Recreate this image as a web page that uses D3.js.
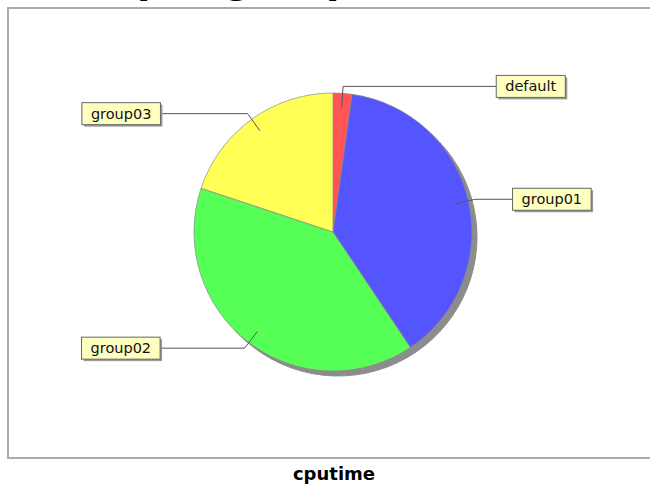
<!DOCTYPE html>
<html><head><meta charset="utf-8">
<script src="https://cdn.jsdelivr.net/npm/d3@7"></script>
<style>body{margin:0;background:#fff;overflow:hidden}</style>
</head><body><svg id="c" width="650" height="489"></svg>
<script>
const categories = ["default", "group01", "group02", "group03"];
const values = [2.2, 38.4, 39.5, 19.9];
const colors = ["#FF5555", "#5555FF", "#55FF55", "#FFFF55"];
const titleText = "CPU per group";
const footerText = "cputime";

const W = 650, H = 489;
const svg = d3.select("#c");
svg.append("rect").attr("width", W).attr("height", H).attr("fill", "#fff");

// title (mostly cropped above the picture, as in the reference)
const title = svg.append("text")
  .attr("y", -7)
  .attr("font-family", "DejaVu Sans")
  .attr("font-weight", "bold")
  .attr("font-size", 39)
  .attr("fill", "#000")
  .text(titleText);
const prefix = title.node().getSubStringLength(0, titleText.indexOf("per"));
title.attr("x", 137 - prefix);

// plot border (right side cropped)
svg.append("rect")
  .attr("x", 8).attr("y", 8).attr("width", 670).attr("height", 450)
  .attr("fill", "#fff").attr("stroke", "#ababab").attr("stroke-width", 2);

const cx = 333, cy = 232, r = 139;
const g = svg.append("g").attr("transform", `translate(${cx},${cy})`);

const pie = d3.pie().sort(null).value(d => d.v);
const data = categories.map((c, i) => ({ c, v: values[i], col: colors[i] }));
const arcs = pie(data);
const arc = d3.arc().innerRadius(0).outerRadius(r);

// shadow
g.append("g").attr("transform", "translate(5,5)")
  .selectAll("path").data(arcs).join("path")
  .attr("d", arc).attr("fill", "#8c8c8c").attr("stroke", "#8c8c8c").attr("stroke-width", 1);

g.selectAll("path.slice").data(arcs).join("path")
  .attr("class", "slice")
  .attr("d", arc)
  .attr("fill", d => d.data.col)
  .attr("stroke", "#8a8a8a")
  .attr("stroke-width", 0.7);

// labels
const labelFont = { family: "DejaVu Sans", size: 14.5 };
const links = g.append("g");
const boxes = g.append("g");

arcs.forEach(d => {
  const mid = (d.startAngle + d.endAngle) / 2;
  const s = Math.sin(mid), c = Math.cos(mid);
  const ix = 0.9 * r * s, iy = -0.9 * r * c;
  const ex = 1.05 * r * s, ey = -1.05 * r * c;
  const right = s >= 0;
  const off = 162 + 18 * Math.abs(s);

  const t = boxes.append("text")
    .attr("font-family", labelFont.family)
    .attr("font-size", labelFont.size)
    .attr("fill", "#111")
    .attr("text-anchor", "middle")
    .text(d.data.c);
  const tw = t.node().getComputedTextLength();
  const bw = tw + 18, bh = 22;
  const bx = right ? off : -off - bw;
  const by = ey - bh / 2;

  links.append("polyline")
    .attr("points", [[ix, iy], [ex, ey], [right ? bx : bx + bw, ey]].map(p => p.join(",")).join(" "))
    .attr("fill", "none").attr("stroke", "#555").attr("stroke-width", 1);

  boxes.insert("rect", "text")
    .attr("x", bx + 2).attr("y", by + 2).attr("width", bw).attr("height", bh)
    .attr("fill", "#9a9a9a");
  boxes.insert("rect", "text")
    .attr("x", bx).attr("y", by).attr("width", bw).attr("height", bh)
    .attr("fill", "#FFFFC0").attr("stroke", "#666").attr("stroke-width", 1);
  t.attr("x", bx + bw / 2).attr("y", ey + 5);
});

// footer label
svg.append("text")
  .attr("x", 334).attr("y", 480)
  .attr("text-anchor", "middle")
  .attr("font-family", "DejaVu Sans")
  .attr("font-weight", "bold")
  .attr("font-size", 18)
  .attr("fill", "#000")
  .text(footerText);
</script>
</body></html>
